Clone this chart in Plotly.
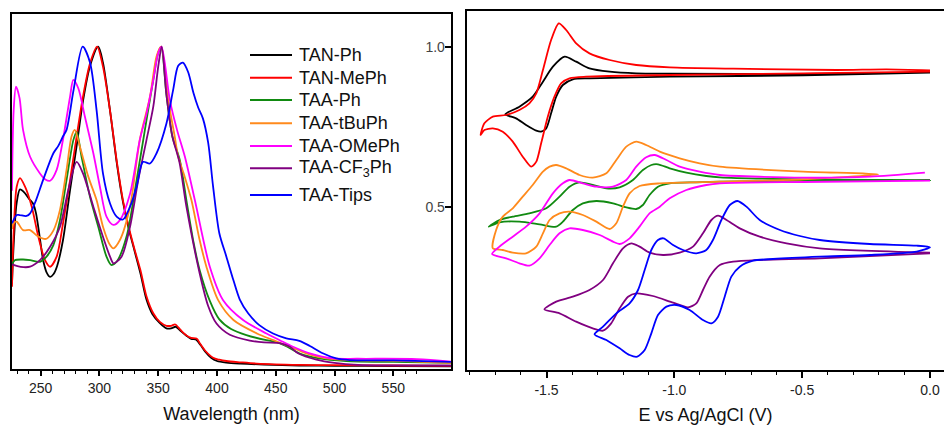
import numpy as np
import plotly.graph_objects as go

# ---------------- data ----------------
names = ["TAN-Ph", "TAN-MePh", "TAA-Ph", "TAA-tBuPh", "TAA-OMePh", "TAA-CF<sub>3</sub>Ph", "TAA-Tips"]
colors = ["#000000", "#ff0000", "#118a11", "#ff8a1c", "#ff00ff", "#800080", "#0000ff"]

# UV-vis (normalised absorbance)
wl_tanph = [225.6, 227, 229.5, 232.4, 236, 240, 243.5, 246, 249, 252, 255, 258, 261, 264, 269, 275, 280.6, 286, 292, 299,
            303, 309, 315, 320, 325, 330, 335, 340, 345, 351, 357, 361, 365, 369, 374, 378, 382, 386, 390, 395,
            400, 408, 420, 440, 470, 500, 550, 599]
abs_tanph = [0.26, 0.38, 0.51, 0.554, 0.545, 0.525, 0.51, 0.48, 0.41, 0.335, 0.295, 0.281, 0.29, 0.315, 0.396, 0.552, 0.69, 0.83, 0.94, 1.0,
             0.95, 0.80, 0.63, 0.515, 0.43, 0.36, 0.29, 0.21, 0.165, 0.138, 0.12, 0.12, 0.125, 0.112, 0.097, 0.087, 0.085, 0.068, 0.047, 0.028,
             0.018, 0.013, 0.01, 0.007, 0.004, 0.003, 0.002, 0.001]

wl_tanmeph = [225.6, 227, 229.6, 232.4, 236.7, 242.4, 248, 253.7, 258, 263.6, 269, 275, 280.6, 286, 292, 298, 303, 309, 315, 320,
              325, 330, 335, 340, 345.8, 351.4, 357, 361, 364.5, 369, 374, 378, 382.6, 386, 390, 396.7, 402, 408, 420, 434,
              470, 500, 550, 599]
abs_tanmeph = [0.25, 0.42, 0.5625, 0.589, 0.5625, 0.50, 0.406, 0.333, 0.3125, 0.344, 0.448, 0.583, 0.72, 0.844, 0.948, 1.0, 0.9375, 0.80, 0.635, 0.52,
               0.435, 0.365, 0.30, 0.22, 0.167, 0.14, 0.128, 0.128, 0.132, 0.115, 0.098, 0.09, 0.088, 0.07, 0.05, 0.028, 0.022, 0.018, 0.014, 0.01,
               0.006, 0.005, 0.004, 0.003]

wl_taaph = [225.6, 228, 235, 241, 249.4, 255, 260.8, 266.4, 272, 277.8, 280.6, 284.8, 292, 299, 306, 310, 314.6, 323, 331.6, 340,
            345.8, 349.5, 352.5, 357, 362, 368.4, 374, 380, 385.4, 394, 402, 412, 425, 442, 450, 459, 470, 487, 510, 550, 599]
abs_taaph = [0.32, 0.333, 0.335, 0.333, 0.328, 0.344, 0.38, 0.458, 0.583, 0.708, 0.734, 0.656, 0.53, 0.4375, 0.344, 0.318, 0.328, 0.406, 0.583, 0.77,
             0.896, 0.975, 1.0, 0.85, 0.72, 0.645, 0.52, 0.39, 0.30, 0.205, 0.148, 0.118, 0.099, 0.083, 0.078, 0.064, 0.042, 0.026, 0.018, 0.015, 0.012]

wl_taatbu = [225.6, 226.8, 229.6, 235, 241, 246.6, 252, 255, 261, 266.4, 272, 276.3, 279, 283.4, 290.5, 297.6, 303, 309, 311.8, 317.4,
             326, 334.4, 343, 348.6, 352.5, 358.5, 364, 367, 372, 378.3, 385, 391, 401, 414, 434, 448, 462, 476, 493, 520, 560, 599]
abs_taatbu = [0.43, 0.448, 0.453, 0.427, 0.427, 0.41, 0.40, 0.40, 0.427, 0.49, 0.615, 0.72, 0.74, 0.6875, 0.594, 0.52, 0.4375, 0.38, 0.37, 0.396,
              0.5, 0.71, 0.844, 0.97, 1.0, 0.833, 0.72, 0.656, 0.60, 0.52, 0.40, 0.3125, 0.208, 0.146, 0.104, 0.083, 0.0625, 0.042, 0.026, 0.02, 0.018, 0.012]

wl_taaome = [225.6, 227, 229, 232, 235, 241, 249.4, 254, 258, 263.6, 269, 275, 277.8, 282, 287.7, 294.8, 300.4, 306, 311.8, 317.4,
             326, 334.4, 340, 345.8, 350, 352.8, 359.9, 366, 372.7, 381.2, 393.9, 405.2, 422.2, 442.1, 453.4, 464.7, 478.9, 498.7, 520, 570, 599]
abs_taaome = [0.55, 0.80, 0.875, 0.84, 0.74, 0.656, 0.604, 0.585, 0.581, 0.615, 0.71, 0.844, 0.896, 0.87, 0.78, 0.667, 0.5625, 0.469, 0.443, 0.458,
              0.54, 0.71, 0.79, 0.896, 0.98, 1.0, 0.833, 0.74, 0.656, 0.52, 0.3125, 0.208, 0.146, 0.104, 0.083, 0.0625, 0.042, 0.026, 0.025, 0.024, 0.016]

wl_taacf3 = [225.6, 226.8, 233, 241, 249.4, 258, 266.4, 273.5, 280.6, 286, 294.8, 303, 309, 312, 318.8, 326, 333, 340, 345.8, 350,
             353, 357, 362, 368, 374, 385.4, 392.5, 399.6, 410.9, 427.9, 440, 453.4, 462, 469, 484.6, 500, 520, 599]
abs_taacf3 = [0.32, 0.318, 0.312, 0.3125, 0.333, 0.375, 0.4375, 0.552, 0.64, 0.604, 0.5, 0.406, 0.344, 0.323, 0.344, 0.4375, 0.583, 0.708, 0.8125, 0.9375,
              1.0, 0.85, 0.72, 0.64, 0.50, 0.29, 0.19, 0.135, 0.1, 0.082, 0.076, 0.074, 0.0625, 0.042, 0.022, 0.012, 0.006, 0.004]

wl_taatips = [225.6, 229.6, 232, 238, 241, 246, 252, 260.8, 265, 269, 272, 278, 285.7, 292, 297.6, 303, 309, 314.6, 320, 326,
              331.6, 337, 343, 348.6, 357, 362.7, 367, 371, 375.5, 380, 384, 388, 392.5, 396.7, 402, 408, 414, 419.4, 426.5, 436,
              447.7, 459, 470, 479, 490, 501.5, 513, 550, 599]
abs_taatips = [0.448, 0.474, 0.474, 0.471, 0.479, 0.52, 0.583, 0.667, 0.69, 0.72, 0.74, 0.865, 1.0, 0.95, 0.80, 0.604, 0.51, 0.469, 0.46, 0.50,
               0.5625, 0.64, 0.635, 0.667, 0.76, 0.865, 0.94, 0.95, 0.92, 0.855, 0.81, 0.776, 0.70, 0.5625, 0.417, 0.344, 0.27, 0.21, 0.167, 0.13,
               0.104, 0.089, 0.081, 0.065, 0.042, 0.026, 0.021, 0.02, 0.015]

# Cyclic voltammograms (E vs Ag/AgCl in V, current in arbitrary offset units)
e_tanph = [0.000, -0.496, -1.018, -1.332, -1.397, -1.436, -1.462, -1.482, -1.501, -1.521, -1.540, -1.580, -1.619, -1.661, -1.606, -1.554,
           -1.514, -1.475, -1.429, -1.384, -1.332, -1.253, -1.149, -1.018, -0.496, 0.000]
i_tanph = [0.892, 0.884, 0.880, 0.875, 0.872, 0.855, 0.820, 0.770, 0.725, 0.715, 0.718, 0.735, 0.755, 0.767, 0.790, 0.820,
           0.865, 0.910, 0.940, 0.925, 0.905, 0.895, 0.890, 0.889, 0.888, 0.892]

e_tanmeph = [0.000, -0.496, -1.018, -1.345, -1.410, -1.443, -1.469, -1.495, -1.521, -1.540, -1.560, -1.593, -1.632, -1.671, -1.710, -1.743,
             -1.758, -1.743, -1.710, -1.658, -1.606, -1.567, -1.540, -1.514, -1.482, -1.452, -1.423, -1.384, -1.332, -1.253, -1.149, -1.018,
             -0.770, -0.366, -0.170, 0.000]
i_tanmeph = [0.895, 0.890, 0.885, 0.880, 0.875, 0.860, 0.820, 0.760, 0.680, 0.625, 0.610, 0.640, 0.685, 0.715, 0.725, 0.720,
             0.705, 0.740, 0.760, 0.765, 0.780, 0.800, 0.830, 0.900, 0.990, 1.040, 1.020, 0.980, 0.950, 0.930, 0.915, 0.908,
             0.904, 0.900, 0.902, 0.899]

e_taaph = [0.000, -0.496, -0.822, -0.914, -1.018, -1.064, -1.097, -1.123, -1.149, -1.188, -1.240, -1.305, -1.358, -1.397, -1.436, -1.462,
           -1.527, -1.606, -1.684, -1.726, -1.684, -1.632, -1.567, -1.501, -1.449, -1.410, -1.371, -1.319, -1.266, -1.214, -1.162, -1.123,
           -1.090, -1.064, -1.018, -0.953, -0.875, -0.822, -0.496, 0.000]
i_taaph = [0.570, 0.568, 0.565, 0.563, 0.560, 0.550, 0.525, 0.495, 0.483, 0.488, 0.500, 0.507, 0.500, 0.480, 0.445, 0.430,
           0.437, 0.445, 0.443, 0.430, 0.450, 0.460, 0.470, 0.485, 0.520, 0.550, 0.563, 0.555, 0.545, 0.548, 0.570, 0.600,
           0.615, 0.617, 0.605, 0.592, 0.582, 0.578, 0.572, 0.570]

e_taatbu = [-0.202, -0.496, -0.822, -1.057, -1.136, -1.175, -1.201, -1.227, -1.253, -1.305, -1.358, -1.410, -1.449, -1.488, -1.514, -1.540,
            -1.580, -1.632, -1.671, -1.710, -1.697, -1.671, -1.632, -1.593, -1.554, -1.514, -1.488, -1.462, -1.423, -1.371, -1.319, -1.266,
            -1.227, -1.188, -1.149, -1.110, -1.057, -0.979, -0.901, -0.822, -0.496, -0.202]
i_taatbu = [0.587, 0.572, 0.565, 0.560, 0.552, 0.530, 0.490, 0.440, 0.423, 0.445, 0.465, 0.475, 0.470, 0.450, 0.410, 0.370,
            0.350, 0.352, 0.360, 0.365, 0.420, 0.460, 0.485, 0.520, 0.555, 0.595, 0.610, 0.615, 0.605, 0.585, 0.577, 0.590,
            0.630, 0.670, 0.685, 0.675, 0.655, 0.635, 0.620, 0.610, 0.595, 0.587]

e_taaome = [0.000, -0.496, -0.822, -0.875, -0.953, -1.018, -1.057, -1.097, -1.136, -1.175, -1.214, -1.240, -1.292, -1.358, -1.410, -1.449,
            -1.488, -1.527, -1.567, -1.606, -1.658, -1.713, -1.684, -1.632, -1.580, -1.527, -1.475, -1.436, -1.410, -1.358, -1.305, -1.240,
            -1.188, -1.149, -1.110, -1.077, -1.031, -0.979, -0.901, -0.822, -0.496, -0.235, -0.020]
i_taaome = [0.568, 0.564, 0.560, 0.555, 0.540, 0.515, 0.490, 0.470, 0.430, 0.395, 0.378, 0.385, 0.405, 0.420, 0.425, 0.410,
            0.375, 0.335, 0.313, 0.320, 0.335, 0.348, 0.370, 0.400, 0.430, 0.470, 0.530, 0.560, 0.570, 0.560, 0.550, 0.550,
            0.570, 0.610, 0.638, 0.645, 0.630, 0.610, 0.595, 0.585, 0.577, 0.580, 0.592]

e_taacf3 = [0.000, -0.431, -0.666, -0.770, -0.822, -0.862, -0.888, -0.914, -0.946, -1.005, -1.084, -1.149, -1.181, -1.214, -1.247, -1.279,
            -1.319, -1.384, -1.449, -1.508, -1.462, -1.397, -1.332, -1.279, -1.240, -1.201, -1.168, -1.136, -1.097, -1.044, -0.979, -0.927,
            -0.888, -0.855, -0.829, -0.796, -0.744, -0.666, -0.561, -0.431, 0.000]
i_taacf3 = [0.350, 0.335, 0.330, 0.325, 0.315, 0.280, 0.240, 0.200, 0.188, 0.202, 0.222, 0.230, 0.220, 0.185, 0.140, 0.118,
            0.125, 0.145, 0.170, 0.182, 0.205, 0.220, 0.240, 0.270, 0.320, 0.365, 0.380, 0.370, 0.352, 0.345, 0.352, 0.370,
            0.410, 0.450, 0.463, 0.450, 0.425, 0.400, 0.380, 0.365, 0.352]

e_taatips = [0.000, -0.052, -0.235, -0.431, -0.614, -0.692, -0.744, -0.777, -0.803, -0.829, -0.855, -0.888, -0.940, -0.992, -1.031, -1.064,
             -1.090, -1.116, -1.145, -1.175, -1.214, -1.266, -1.312, -1.279, -1.227, -1.175, -1.142, -1.116, -1.090, -1.064, -1.042, -1.005,
             -0.966, -0.914, -0.875, -0.849, -0.816, -0.783, -0.753, -0.718, -0.666, -0.587, -0.509, -0.431, -0.235, -0.052, 0.000]
i_taatips = [0.368, 0.355, 0.345, 0.340, 0.333, 0.328, 0.310, 0.280, 0.220, 0.160, 0.140, 0.150, 0.180, 0.195, 0.190, 0.165,
             0.110, 0.060, 0.040, 0.045, 0.065, 0.090, 0.107, 0.130, 0.170, 0.200, 0.240, 0.300, 0.360, 0.390, 0.395, 0.375,
             0.360, 0.350, 0.360, 0.390, 0.450, 0.495, 0.507, 0.490, 0.450, 0.420, 0.402, 0.390, 0.378, 0.373, 0.368]

uv_x = [wl_tanph, wl_tanmeph, wl_taaph, wl_taatbu, wl_taaome, wl_taacf3, wl_taatips]
uv_y = [abs_tanph, abs_tanmeph, abs_taaph, abs_taatbu, abs_taaome, abs_taacf3, abs_taatips]
cv_x = [e_tanph, e_tanmeph, e_taaph, e_taatbu, e_taaome, e_taacf3, e_taatips]
cv_y = [i_tanph, i_tanmeph, i_taaph, i_taatbu, i_taaome, i_taacf3, i_taatips]

uv_ticks = [250, 300, 350, 400, 450, 500, 550]
uv_yticks = [0.5, 1.0]
uv_yticktext = ["0.5", "1.0"]
cv_ticks = [-1.5, -1.0, -0.5, 0.0]
cv_ticktext = ["-1.5", "-1.0", "-0.5", "0.0"]

# ---------------- figure ----------------
W, H = 944, 425
FONT = "Liberation Sans, Arial, sans-serif"
fig = go.Figure()

for k in range(len(names)):
    fig.add_trace(go.Scatter(x=uv_x[k], y=uv_y[k], mode="lines", name=names[k], showlegend=False,
                             line=dict(color=colors[k], width=1.8, shape="spline", smoothing=0.8),
                             xaxis="x", yaxis="y"))
for k in range(len(names)):
    fig.add_trace(go.Scatter(x=cv_x[k], y=cv_y[k], mode="lines", name=names[k], showlegend=False,
                             line=dict(color=colors[k], width=1.8, shape="spline", smoothing=0.7),
                             xaxis="x2", yaxis="y2"))

# legend drawn inside the left panel (line sample + label), rows in pixel offsets
legend_rows_px = [55, 77.7, 100, 123.3, 146, 168.3, 195]
shapes = []
annotations = []
for k in range(len(names)):
    yp = 1 - legend_rows_px[k] / H
    shapes.append(dict(type="line", xref="paper", yref="paper", x0=250 / W, x1=292 / W, y0=yp, y1=yp,
                       line=dict(color=colors[k], width=2)))
    annotations.append(dict(xref="paper", yref="paper", x=297 / W, y=yp, xanchor="left", yanchor="middle",
                            text=names[k], showarrow=False, font=dict(size=18, color="#111111", family=FONT)))

fig.update_layout(
    width=W, height=H,
    margin=dict(l=0, r=0, t=0, b=0),
    paper_bgcolor="white", plot_bgcolor="white",
    font=dict(family=FONT, color="#222222", size=14),
    showlegend=False,
    shapes=shapes, annotations=annotations,
    xaxis=dict(domain=[12 / W, 451 / W], range=[225.6, 599.1],
               tickvals=uv_ticks, ticks="outside", ticklen=5, tickwidth=1.5, tickcolor="black",
               minor=dict(dtick=10, tick0=0, ticks="outside", ticklen=3, tickwidth=1.2, tickcolor="black"),
               showline=True, linewidth=1.8, linecolor="black", mirror=True,
               showgrid=False, zeroline=False,
               tickfont=dict(size=14),
               title=dict(text="Wavelength (nm)", font=dict(size=18, color="#111111"), standoff=13),
               automargin=False, anchor="y"),
    yaxis=dict(domain=[1 - 369 / H, 1 - 14 / H], range=[-0.007, 1.102],
               side="right", tickvals=uv_yticks, ticktext=uv_yticktext,
               ticks="inside", ticklen=6, tickwidth=1.5, tickcolor="black",
               ticklabelposition="inside",
               showline=True, linewidth=1.8, linecolor="black", mirror=True,
               showgrid=False, zeroline=False, tickfont=dict(size=14),
               automargin=False, anchor="x"),
    xaxis2=dict(domain=[467 / W, 1.0], range=[-1.811, 0.0548],
                tickvals=cv_ticks, ticktext=cv_ticktext,
                ticks="outside", ticklen=6, tickwidth=1.5, tickcolor="black",
                minor=dict(tickvals=list(np.round(np.arange(-1.8, 0.001, 0.1), 2)), ticks="outside",
                           ticklen=3, tickwidth=1.2, tickcolor="black"),
                showline=True, linewidth=1.8, linecolor="black", mirror=True,
                showgrid=False, zeroline=False, tickfont=dict(size=14),
                title=dict(text="E vs Ag/AgCl (V)", font=dict(size=18, color="#111111"), standoff=13),
                automargin=False, anchor="y2"),
    yaxis2=dict(domain=[1 - 370 / H, 1 - 11 / H], range=[0, 1.077],
                showticklabels=False, ticks="", showline=True, linewidth=1.8, linecolor="black",
                mirror=False, showgrid=False, zeroline=False, automargin=False, anchor="x2"),
)

fig.write_html("out.html", config={"displayModeBar": False},
               post_script="document.body.style.margin='0px';document.body.style.overflow='hidden';")
